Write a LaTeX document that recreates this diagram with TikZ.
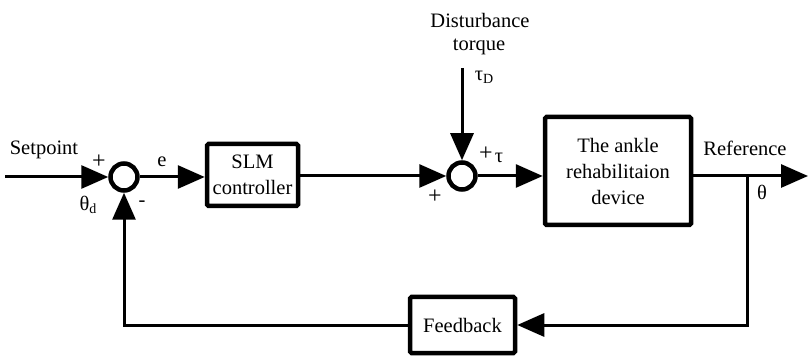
\documentclass[tikz,border=0pt]{standalone}
\usepackage{fontspec}
\setmainfont{Liberation Serif}
\usetikzlibrary{arrows.meta}
\newcommand{\sub}[1]{{\fontsize{14}{14}\selectfont\raisebox{-3pt}{#1}}}
\begin{document}
\begin{tikzpicture}[x=1pt,y=-1pt,
  font=\fontsize{20.5}{26}\selectfont,
  blk/.style={draw,line width=4.5pt,rounded corners=1.5pt,align=center,inner sep=0pt},
  sumc/.style={draw,circle,line width=4.5pt,minimum size=27pt,inner sep=0pt},
  wire/.style={line width=3pt},
  arr/.style={wire,-{Triangle[length=27pt,width=23pt]}},
  lbl/.style={inner sep=0pt},
  pls/.style={inner sep=0pt,font=\fontsize{24}{26}\selectfont}]
\useasboundingbox (0,0) rectangle (809,358);
% blocks
\node[sumc] (s1) at (124,177) {};
\node[sumc] (s2) at (462,176) {};
\node[blk,minimum width=91pt,minimum height=62pt] (slm) at (252.5,175) {SLM\\controller};
\node[blk,minimum width=146pt,minimum height=108pt] (plant) at (618,171) {The ankle\\rehabilitaion\\device};
\node[blk,minimum width=105pt,minimum height=56pt] (fb) at (462.5,325) {Feedback};
% coordinates
\coordinate (sp) at (5,177);
\coordinate (dt) at (462,68);
\coordinate (out) at (808,176);
\coordinate (br) at (747,176);
\coordinate (brd) at (747,325);
\coordinate (lft) at (124,325);
% connectors
\draw[arr] (sp) -- (s1.west);
\draw[arr] (s1.east) -- (slm.west |- s1);
\draw[arr] (slm.east |- s2) -- (s2.west);
\draw[arr] (dt) -- (s2.north);
\draw[arr] (s2.east) -- (plant.west |- s2);
\draw[arr] (plant.east |- out) -- (out);
\draw[arr] (br) -- (brd) -- (fb.east);
\draw[arr] (fb.west) -- (lft) -- (s1.south);
% labels
\node[lbl] (tsp) at (44,150) {Setpoint};
\node[pls] (p1) at (99,162) {+};
\node[lbl] (thd) at (88,205) {θ\sub{d}};
\node[lbl] (m1) at (142,204) {-};
\node[lbl] (te) at (162,162) {e};
\node[lbl] (tdist) at (480,20) {Disturbance};
\node[lbl] (ttor) at (479,47) {torque};
\node[lbl] (ttd) at (484,77) {τ\sub{D}};
\node[pls] (p2) at (486,154) {+};
\node[lbl] (tt) at (499,158) {τ};
\node[pls] (p3) at (435,197) {+};
\node[lbl] (tref) at (745,148) {Reference};
\node[lbl] (tth) at (762,192) {θ};
\end{tikzpicture}
\end{document}
